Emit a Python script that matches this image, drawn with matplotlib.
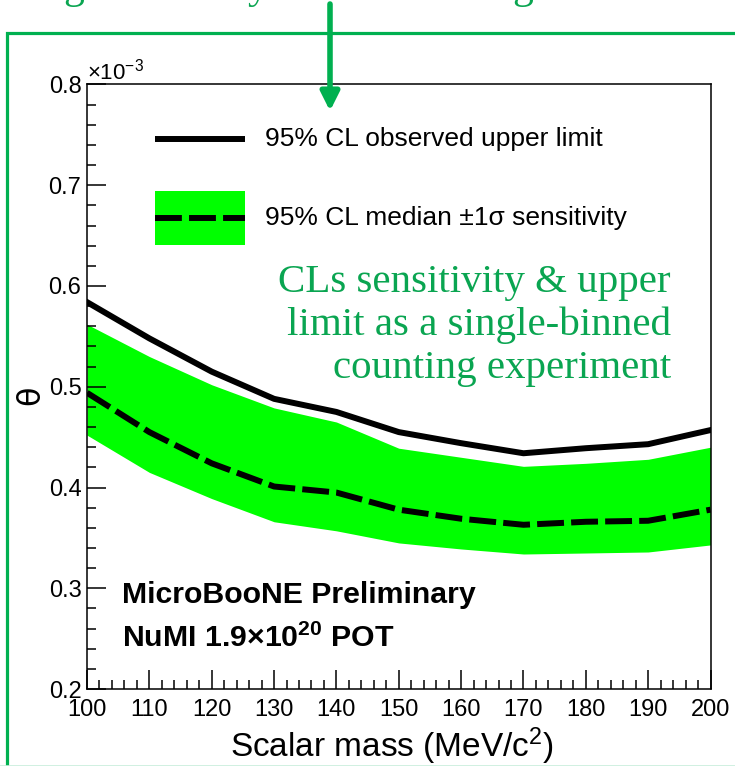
import matplotlib
matplotlib.use("Agg")
import matplotlib.pyplot as plt
from matplotlib.patches import Rectangle

plt.rcParams['font.family'] = ['Liberation Sans', 'DejaVu Sans']
plt.rcParams['mathtext.fontset'] = 'custom'
plt.rcParams['mathtext.rm'] = 'Liberation Sans'
plt.rcParams['mathtext.bf'] = 'Liberation Sans:bold'
plt.rcParams['mathtext.default'] = 'regular'

# scalar mass points and limits on theta (in units of 1e-3)
mass = [100, 110, 120, 130, 140, 150, 160, 170, 180, 190, 200]
observed = [0.584, 0.548, 0.515, 0.488, 0.475, 0.455, 0.444, 0.434, 0.439, 0.443, 0.457]
median = [0.494, 0.455, 0.424, 0.401, 0.395, 0.378, 0.369, 0.363, 0.366, 0.367, 0.378]
band_hi = [0.562, 0.530, 0.502, 0.479, 0.465, 0.439, 0.430, 0.421, 0.424, 0.428, 0.440]
band_lo = [0.452, 0.415, 0.389, 0.366, 0.357, 0.345, 0.339, 0.334, 0.335, 0.336, 0.343]

xticks = [100, 110, 120, 130, 140, 150, 160, 170, 180, 190, 200]
yticks = [0.2, 0.3, 0.4, 0.5, 0.6, 0.7, 0.8]

GREEN = '#0aa551'
FRAME = '#00b050'

fig = plt.figure(figsize=(7.35, 7.66), dpi=100)
ax = fig.add_axes([0.1184, 0.1005, 0.8483, 0.7892])

ax.fill_between(mass, band_lo, band_hi, color='#00ff00', lw=0)
ax.plot(mass, median, color='black', lw=4.3, ls=(0, (4.5, 1.2)))
ax.plot(mass, observed, color='black', lw=4.3)

ax.set_xlim(100, 200)
ax.set_ylim(0.2, 0.8)
ax.set_xticks(xticks)
ax.set_yticks(yticks)
ax.set_yticklabels([f'{v:.1f}' for v in yticks])
ax.set_xticks(range(100, 201, 2), minor=True)
ax.set_yticks([0.2 + 0.02 * i for i in range(31)], minor=True)
ax.tick_params(which='both', direction='in', top=False, right=False,
               width=1.1, labelsize=17)
ax.tick_params(axis='y', pad=4)
ax.tick_params(axis='x', pad=7)
ax.tick_params(which='major', length=13.5)
ax.tick_params(which='minor', length=6.5)
for s in ax.spines.values():
    s.set_linewidth(1.1)

ax.text(0.0, 1.008, '×10$^{-3}$', transform=ax.transAxes, fontsize=16,
        ha='left', va='baseline')
ax.text(-0.09, 0.486, 'θ', transform=ax.transAxes, fontsize=23,
        rotation=90, ha='center', va='center', family='DejaVu Sans')
ax.text(0.489, -0.095, 'Scalar mass (MeV/c$^{2}$)', transform=ax.transAxes,
        fontsize=24, ha='center', va='center')

# legend drawn by hand
ax.plot([0.109, 0.253], [0.910, 0.910], transform=ax.transAxes,
        color='black', lw=4.3, solid_capstyle='butt')
ax.add_patch(Rectangle((0.109, 0.734), 0.144, 0.090, transform=ax.transAxes,
                       color='#00ff00', lw=0))
ax.plot([0.109, 0.253], [0.779, 0.779], transform=ax.transAxes,
        color='black', lw=4.3, ls=(0, (4.5, 1.2)))
ax.text(0.285, 0.910, '95% CL observed upper limit', transform=ax.transAxes,
        fontsize=19, va='center')
ax.text(0.285, 0.779, '95% CL median ±1σ sensitivity', transform=ax.transAxes,
        fontsize=19, va='center')

ax.text(0.9366, 0.601, 'CLs sensitivity & upper\nlimit as a single-binned\ncounting experiment',
        transform=ax.transAxes, fontsize=29.5, color=GREEN, family='Liberation Serif',
        ha='right', va='center', multialignment='right', linespacing=1.2)

ax.text(0.056, 0.142, 'MicroBooNE Preliminary', transform=ax.transAxes,
        fontsize=21.8, fontweight='bold', va='baseline')
ax.text(0.056, 0.0695, r'NuMI 1.9$\times$10$^{\mathbf{20}}$ POT', transform=ax.transAxes,
        fontsize=21.8, fontweight='bold', va='baseline')

# slide frame, arrow and the clipped heading above
fig.add_artist(Rectangle((7.5 / 735, -0.05), 1.0, 0.957 + 0.05,
                         transform=fig.transFigure, fill=False,
                         edgecolor=FRAME, lw=2.3))
fig.add_artist(plt.Line2D([0, 1], [0.5 / 766, 0.5 / 766], transform=fig.transFigure,
                          color='#c8eedb', lw=1.2))
ax.annotate('', xy=(330, 766 - 111), xytext=(330, 766 - 4),
            xycoords='figure pixels', textcoords='figure pixels',
            annotation_clip=False,
            arrowprops=dict(arrowstyle='-|>', color=FRAME, lw=4,
                            mutation_scale=28, shrinkA=0, shrinkB=0))
for xp, ch in [(74, 'g'), (258, 'y'), (523, 'g')]:
    fig.text(xp / 735, 1.003, ch, fontsize=30, color=GREEN, family='Liberation Serif',
             ha='center', va='baseline')

fig.savefig('out.png', dpi=100)
